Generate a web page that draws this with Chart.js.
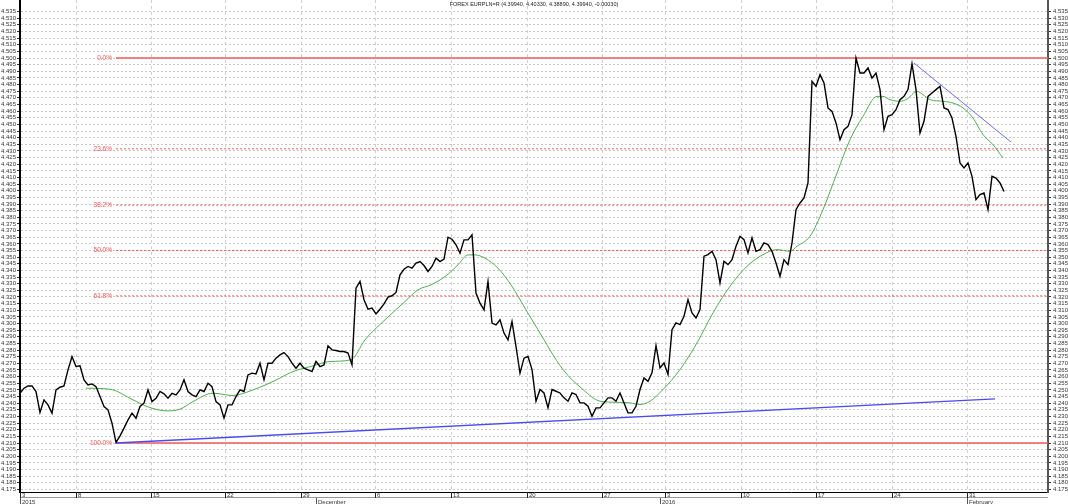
<!DOCTYPE html>
<html>
<head>
<meta charset="utf-8">
<script src="https://cdn.jsdelivr.net/npm/chart.js@4.4.1/dist/chart.umd.min.js"></script>
<style>
  html, body { margin: 0; padding: 0; background: #fff; }
  #wrap { width: 1068px; height: 504px; }
</style>
</head>
<body>
<div id="wrap"><canvas id="fxChart" width="1068" height="504"></canvas></div>
<script>
const title = 'FOREX EURPLN=R (4.39940, 4.40330, 4.38890, 4.39940, -0.00030)';

// close prices, one per bar
const price = [
  4.2475, 4.2513, 4.2530, 4.2530, 4.2488, 4.2330, 4.2425, 4.2387, 4.2325, 4.2500,
  4.2520, 4.2530, 4.2651, 4.2751, 4.2676, 4.2681, 4.2576, 4.2538, 4.2545, 4.2525,
  4.2450, 4.2375, 4.2350, 4.2249, 4.2104, 4.2154, 4.2212, 4.2274, 4.2325, 4.2287,
  4.2375, 4.2400, 4.2500, 4.2412, 4.2437, 4.2488, 4.2470, 4.2437, 4.2475, 4.2463,
  4.2500, 4.2576, 4.2488, 4.2463, 4.2450, 4.2500, 4.2488, 4.2550, 4.2525, 4.2412,
  4.2387, 4.2287, 4.2387, 4.2387, 4.2450, 4.2500, 4.2488, 4.2613, 4.2626, 4.2621,
  4.2701, 4.2576, 4.2701, 4.2701, 4.2739, 4.2764, 4.2781, 4.2751, 4.2701, 4.2663,
  4.2701, 4.2663, 4.2651, 4.2638, 4.2714, 4.2676, 4.2688, 4.2832,
  4.2802, 4.2797, 4.2789, 4.2789, 4.2777, 4.2689, 4.3266, 4.3317, 4.3179, 4.3108,
  4.3116, 4.3073, 4.3108, 4.3148, 4.3199, 4.3209, 4.3234, 4.3367, 4.3409, 4.3430,
  4.3417, 4.3455, 4.3467, 4.3437, 4.3392, 4.3430, 4.3492, 4.3467, 4.3485, 4.3650,
  4.3635, 4.3593, 4.3530, 4.3630, 4.3630, 4.3668, 4.3229, 4.3153, 4.3103, 4.3317,
  4.3003, 4.2990, 4.3028, 4.2928, 4.2877, 4.3015, 4.2827, 4.2626, 4.2739, 4.2752,
  4.2653, 4.2415, 4.2503, 4.2477, 4.2365, 4.2503, 4.2490, 4.2477, 4.2440, 4.2415,
  4.2477, 4.2465, 4.2402, 4.2402, 4.2377, 4.2302, 4.2365, 4.2365, 4.2402, 4.2440,
  4.2440, 4.2415, 4.2477, 4.2402, 4.2327, 4.2327, 4.2377, 4.2503, 4.2590, 4.2565,
  4.2628, 4.2834, 4.2666, 4.2703, 4.2616, 4.2954, 4.3005, 4.2992, 4.3055, 4.3180,
  4.3080, 4.3042, 4.3105, 4.3507, 4.3519, 4.3544, 4.3481, 4.3306, 4.3469, 4.3444,
  4.3481, 4.3582, 4.3657, 4.3632, 4.3532, 4.3645, 4.3544, 4.3557, 4.3607, 4.3594,
  4.3544, 4.3456, 4.3356, 4.3481, 4.3444, 4.3607, 4.3858, 4.3908, 4.3946, 4.4059,
  4.4824, 4.4787, 4.4875, 4.4812, 4.4624, 4.4598, 4.4511, 4.4385, 4.4460, 4.4485,
  4.4573, 4.5000, 4.4887, 4.4887, 4.4925, 4.4849, 4.4887, 4.4762, 4.4460, 4.4561,
  4.4573, 4.4611, 4.4686, 4.4711, 4.4762, 4.4957, 4.4762, 4.4435, 4.4523, 4.4711,
  4.4736, 4.4762, 4.4787, 4.4624, 4.4611, 4.4548, 4.4410, 4.4209, 4.4172, 4.4209,
  4.4109, 4.3933, 4.3971, 4.3983, 4.3858, 4.4109, 4.4096, 4.4059, 4.3994
];

// moving average (green), sampled at these bars
const maBars = [16.5, 22.5, 28.25, 31.75, 36.75, 40, 43.25, 48.25, 53.25, 58.25,
  63.25, 68.25, 73.25, 77.5, 82.75, 86.25, 91.25, 96.25, 99.5, 102.75,
  106.25, 109.5, 112, 113.75, 116.25, 119.5, 122.75, 126.25, 129.5, 135.75,
  140.75, 145, 149.25, 152.5, 155, 157.5, 160.75, 165, 169.25, 173.25,
  177.5, 181.75, 185.75, 189.25, 192.5, 194.25, 197.5, 200.75, 204.25, 207.5,
  210.75, 214.25, 215.75, 217.5, 220, 221.75, 224.25, 225.75, 227.5, 230.75,
  233.25, 235.75, 238.25, 240.75, 243.25, 245.75];
const maValues = [4.2513, 4.2505, 4.2425, 4.2375, 4.2342, 4.2355, 4.2412, 4.2475, 4.2458, 4.2500,
  4.2563, 4.2638, 4.2681, 4.2714, 4.2727, 4.2877, 4.3028, 4.3166, 4.3254, 4.3291,
  4.3354, 4.3442, 4.3517, 4.3517, 4.3492, 4.3417, 4.3291, 4.3116, 4.2953, 4.2653,
  4.2503, 4.2415, 4.2407, 4.2402, 4.2390, 4.2415, 4.2503, 4.2653, 4.2854, 4.3080,
  4.3281, 4.3431, 4.3519, 4.3557, 4.3544, 4.3582, 4.3657, 4.3858, 4.4134, 4.4385,
  4.4561, 4.4711, 4.4711, 4.4686, 4.4674, 4.4691, 4.4749, 4.4724, 4.4686, 4.4674,
  4.4661, 4.4624, 4.4548, 4.4423, 4.4347, 4.4247];

// fibonacci retracement
const fibLevels = [4.5000, 4.4316, 4.3892, 4.3550, 4.3208, 4.2100];
const fibLabels = ['0.0%', '23.6%', '38.2%', '50.0%', '61.8%', '100.0%'];
const fibStartBar = 24;

// trend lines
const lowTrendBars = [24, 243.75];
const lowTrendValues = [4.2100, 4.2432];
const highTrendBars = [223.5, 247.75];
const highTrendValues = [4.4962, 4.4367];

// time axis
const dayTicks = [0, 14, 32.75, 51.25, 70.25, 88.75, 107.75, 126.75, 145.5, 161.25, 180.25, 199, 218, 236.75];
const dayLabels = ['3', '8', '15', '22', '29', '6', '13', '20', '27', '3', '10', '17', '24', '31'];
const monthTicks = [0, 74, 160, 236.75];
const monthLabels = ['2015', 'December', '2016', 'February'];
const lastBar = 257;

// price axis
const yMin = 4.1731, yMax = 4.5437;
const yTickFirst = 4.175, yTickLast = 4.535, yTickStep = 0.005;

const yTicks = [];
for (let v = yTickFirst; v <= yTickLast + 1e-9; v += yTickStep) yTicks.push({ value: +v.toFixed(3) });

const pts = (xs, ys) => xs.map((b, i) => ({ x: b, y: ys[i] }));
const FONT = '"Liberation Sans", Arial, sans-serif';

const fibSets = fibLevels.map((lv, i) => {
  const solid = i === 0 || i === fibLevels.length - 1;
  return {
    data: [{ x: fibStartBar, y: lv }, { x: lastBar, y: lv }],
    borderColor: solid ? '#f05a5a' : '#ff5a5a',
    borderWidth: solid ? 1.3 : 1,
    borderDash: solid ? [] : [2, 2],
    pointRadius: 0,
    order: 5
  };
});

const overlay = {
  id: 'overlay',
  afterDraw(chart) {
    const { ctx, chartArea: area, scales: { x, y } } = chart;
    ctx.save();

    // header text
    ctx.font = '5.5px ' + FONT;
    ctx.fillStyle = '#222';
    ctx.textAlign = 'center';
    ctx.textBaseline = 'middle';
    ctx.fillText(title, (area.left + area.right) / 2, 4);

    // fib labels
    ctx.font = '6.5px ' + FONT;
    ctx.fillStyle = '#ff5050';
    ctx.textAlign = 'right';
    fibLevels.forEach((lv, i) => {
      ctx.fillText(fibLabels[i], x.getPixelForValue(fibStartBar) - 4, y.getPixelForValue(lv));
    });

    // date band under the plot
    const top = area.bottom;
    const row = top + 6;
    ctx.lineWidth = 1;
    ctx.strokeStyle = '#999';
    ctx.beginPath();
    ctx.moveTo(area.left, row - 0.5);
    ctx.lineTo(area.right, row - 0.5);
    ctx.stroke();

    ctx.font = '6px ' + FONT;
    ctx.fillStyle = '#333';
    ctx.textAlign = 'left';
    ctx.strokeStyle = '#222';
    dayTicks.forEach((t, i) => {
      const px = Math.round(x.getPixelForValue(t)) + 0.5;
      ctx.beginPath();
      ctx.moveTo(px, top);
      ctx.lineTo(px, row);
      ctx.stroke();
      ctx.fillText(dayLabels[i], px + 1.5, top + 3.3);
    });
    ctx.strokeStyle = '#555';
    monthTicks.forEach((t, i) => {
      const px = Math.round(x.getPixelForValue(t)) + 0.5;
      ctx.beginPath();
      ctx.moveTo(px, row);
      ctx.lineTo(px, chart.height);
      ctx.stroke();
      ctx.fillText(monthLabels[i], px + 1.5, row + 4.5);
    });
    ctx.restore();
  }
};

new Chart(document.getElementById('fxChart').getContext('2d'), {
  type: 'line',
  data: {
    datasets: [
      {
        data: pts(price.map((_, i) => i), price),
        borderColor: '#000',
        borderWidth: 1.4,
        pointRadius: 0,
        tension: 0,
        order: 0
      },
      {
        data: pts(highTrendBars, highTrendValues),
        borderColor: '#6a6aff',
        borderWidth: 1,
        pointRadius: 0,
        order: 1
      },
      {
        data: pts(lowTrendBars, lowTrendValues),
        borderColor: '#4a4af0',
        borderWidth: 1.3,
        pointRadius: 0,
        order: 2
      },
      {
        data: pts(maBars, maValues),
        borderColor: '#4cb04c',
        borderWidth: 1,
        pointRadius: 0,
        cubicInterpolationMode: 'monotone',
        order: 3
      },
      ...fibSets
    ]
  },
  options: {
    responsive: false,
    animation: false,
    events: [],
    layout: { padding: { top: 0, left: 0, right: 0, bottom: 12 } },
    plugins: { legend: { display: false }, tooltip: { enabled: false } },
    scales: {
      x: {
        type: 'linear',
        min: 0,
        max: lastBar,
        afterBuildTicks: s => { s.ticks = dayTicks.map(v => ({ value: v })); },
        afterFit: s => { s.height = 0; s.paddingLeft = 0; s.paddingRight = 0; },
        ticks: { display: false },
        grid: { color: '#cfcfcf', drawTicks: false },
        border: { display: true, color: '#000', width: 1, dash: [3, 3] }
      },
      y: {
        position: 'left',
        min: yMin,
        max: yMax,
        afterBuildTicks: s => { s.ticks = yTicks.map(t => ({ value: t.value })); },
        afterFit: s => { s.width = 20; s.paddingTop = 0; s.paddingBottom = 0; },
        ticks: {
          autoSkip: false,
          padding: 1,
          color: '#333',
          font: { size: 6, family: FONT },
          callback: v => v.toFixed(3)
        },
        grid: { color: '#c8c8c8', tickLength: 3, tickColor: '#333', tickBorderDash: [] },
        border: { display: true, color: '#000', width: 2, dash: [2, 2] }
      },
      y2: {
        position: 'right',
        min: yMin,
        max: yMax,
        afterBuildTicks: s => { s.ticks = yTicks.map(t => ({ value: t.value })); },
        afterFit: s => { s.width = 20; s.paddingTop = 0; s.paddingBottom = 0; },
        ticks: {
          autoSkip: false,
          padding: 2,
          color: '#333',
          font: { size: 6, family: FONT },
          callback: v => v.toFixed(3)
        },
        grid: { drawOnChartArea: false, tickLength: 3, tickColor: '#333' },
        border: { display: true, color: '#555', width: 2 }
      }
    }
  },
  plugins: [overlay]
});
</script>
</body>
</html>
